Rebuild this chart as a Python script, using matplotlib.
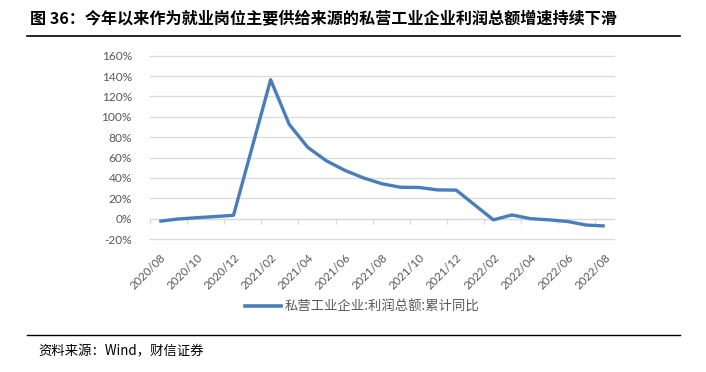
import numpy as np
import matplotlib
matplotlib.use("Agg")
import matplotlib.pyplot as plt
from matplotlib.lines import Line2D

plt.rcParams['font.family'] = ['Noto Sans CJK SC', 'DejaVu Sans']

# ---- data ----
months = ["2020/08", "2020/09", "2020/10", "2020/11", "2020/12",
          "2021/01", "2021/02", "2021/03", "2021/04", "2021/05", "2021/06",
          "2021/07", "2021/08", "2021/09", "2021/10", "2021/11", "2021/12",
          "2022/01", "2022/02", "2022/03", "2022/04", "2022/05", "2022/06",
          "2022/07", "2022/08"]
profit_yoy = [-2.6, -0.4, 0.9, 2.0, 3.3,
              None, 136.4, 92.6, 70.0, 56.8, 47.4,
              40.0, 34.2, 30.8, 30.6, 28.2, 28.0,
              None, -1.2, 3.6, 0.0, -1.2, -2.8,
              -6.3, -7.2]
tick_labels = months[::2]
series_name = "私营工业企业:利润总额:累计同比"
title = "图 36：今年以来作为就业岗位主要供给来源的私营工业企业利润总额增速持续下滑"
source = "资料来源：Wind，财信证券"

W, H = 706, 372
fig = plt.figure(figsize=(W / 100, H / 100), dpi=100)

# title
fig.text(30 / W, 1 - 18 / H, title, fontsize=11.6, fontweight='bold',
         ha='left', va='center', color='black')
fig.add_artist(Line2D([27 / W, 680 / W], [1 - 36 / H, 1 - 36 / H],
                      color='black', lw=1.2))

# axes
L, R, T, B = 150, 614, 55.7, 239
ax = fig.add_axes([L / W, 1 - B / H, (R - L) / W, (B - T) / H])
x = np.arange(len(months))
y = np.array([np.nan if v is None else v for v in profit_yoy], dtype=float)
m = ~np.isnan(y)
ax.plot(x[m], y[m], color='#4A7EBB', lw=2.4, solid_joinstyle='round',
        solid_capstyle='butt', zorder=3)

ax.set_xlim(-0.5, len(months) - 0.5)
ax.set_ylim(-20, 160)
ax.set_yticks(np.arange(-20, 161, 20))
ax.set_yticklabels([f"{v}%" for v in range(-20, 161, 20)])
ax.set_xticks(x[::2])
ax.set_xticklabels(tick_labels, rotation=45, ha='right', va='top',
                   rotation_mode='anchor')
ax.tick_params(axis='x', length=0, pad=9, labelsize=8.2, labelcolor='#595959')
ax.tick_params(axis='y', length=0, pad=13, labelsize=8.6, labelcolor='#595959')
for lab in ax.get_xticklabels() + ax.get_yticklabels():
    lab.set_family(['Lato', 'DejaVu Sans'])
ax.grid(axis='y', color='#D9D9D9', lw=0.9)
for s in ax.spines.values():
    s.set_visible(False)
for gl in ax.get_ygridlines():
    gl.set_clip_on(False)

# zero axis line with ticks
sec = ax.secondary_xaxis(20 / 180)
sec.set_xticks(np.arange(-0.5, len(months) - 1, 2))
sec.set_xticklabels([])
sec.tick_params(axis='x', direction='out', length=3.5, width=0.9, color='#D9D9D9')
sec.spines['bottom'].set_color('#D9D9D9')
sec.spines['bottom'].set_linewidth(0.9)

# legend
handle = Line2D([], [], color='#4A7EBB', lw=2.6)
fig.legend([handle], [series_name], loc='center', bbox_to_anchor=(362 / W, 1 - 307 / H),
           frameon=False, fontsize=9.6, handlelength=2.7, handletextpad=0.3,
           labelcolor='#595959')

# source
fig.add_artist(Line2D([27 / W, 680 / W], [1 - 335 / H, 1 - 335 / H],
                      color='black', lw=1.0))
fig.text(38 / W, 1 - 351 / H, source, fontsize=9.6, style='italic',
         ha='left', va='center', color='black')

fig.savefig('out.png', dpi=100)
